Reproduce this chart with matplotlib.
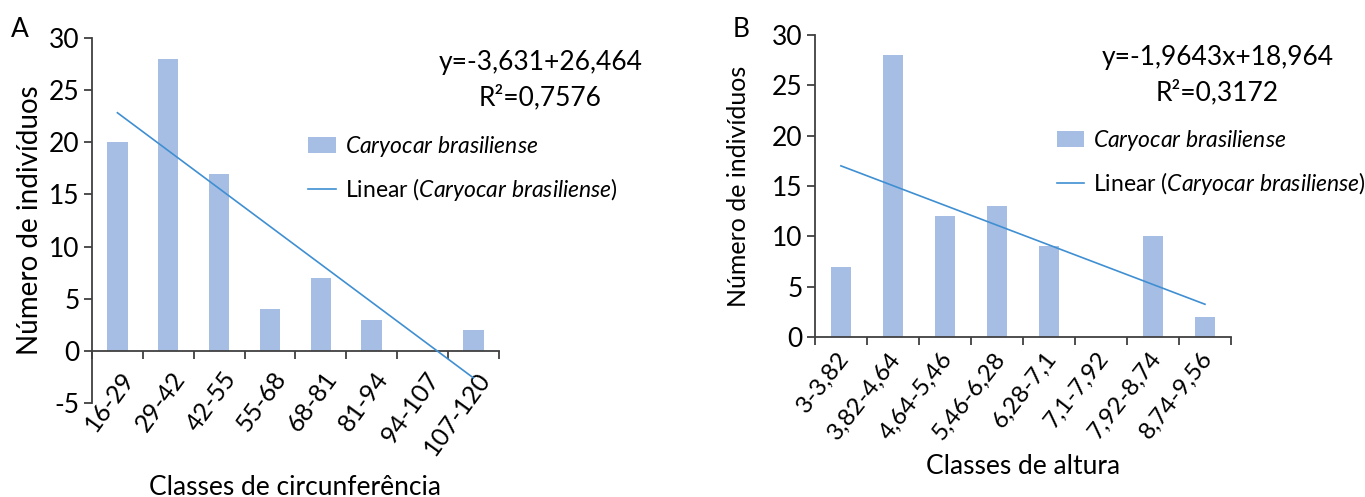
import numpy as np
import matplotlib
matplotlib.use("Agg")
from matplotlib import pyplot as plt
from matplotlib.patches import Patch
from matplotlib.lines import Line2D
from matplotlib.transforms import ScaledTranslation

plt.rcParams['font.family'] = ['Lato', 'DejaVu Sans']
plt.rcParams['mathtext.fontset'] = 'custom'
plt.rcParams['mathtext.rm'] = 'Lato'
plt.rcParams['mathtext.it'] = 'Lato:italic'
plt.rcParams['axes.unicode_minus'] = False

# data
circ_classes = ["16-29", "29-42", "42-55", "55-68", "68-81", "81-94", "94-107", "107-120"]
circ_counts = [20, 28, 17, 4, 7, 3, 0, 2]
alt_classes = ["3-3,82", "3,82-4,64", "4,64-5,46", "5,46-6,28", "6,28-7,1", "7,1-7,92", "7,92-8,74", "8,74-9,56"]
alt_counts = [7, 28, 12, 13, 9, 0, 10, 2]

bar_color = "#A7BEE4"
line_color = "#3F8FD2"
axis_color = "#404040"
fs = 19


def panel(rect, classes, counts, ymin, xlabel, xlabel_y, ylabel_x, ylabel_fs,
          eq, r2, eq_xy, leg_xy, lab_fs, lab_rot, lab_pad, lab_dx):
    ax = fig.add_axes(rect)
    x = np.arange(1, len(counts) + 1)
    ax.bar(x, counts, width=0.4, color=bar_color, zorder=2)
    slope, icpt = np.polyfit(x, counts, 1)
    ax.plot(x, slope * x + icpt, color=line_color, lw=1.2, zorder=3)

    ax.set_xlim(0.5, len(counts) + 0.5)
    ax.set_ylim(ymin, 30)
    ax.set_yticks(np.arange(ymin, 31, 5))
    ax.spines['top'].set_visible(False)
    ax.spines['right'].set_visible(False)
    ax.spines['bottom'].set_position(('data', 0))
    for s in ('left', 'bottom'):
        ax.spines[s].set_color(axis_color)
        ax.spines[s].set_linewidth(1.3)

    ax.set_xticks(x)
    ax.set_xticklabels(classes, rotation=lab_rot, ha='right', va='top')
    ax.set_xticks(np.arange(0.5, len(counts) + 1), minor=True)
    ax.tick_params(axis='x', which='major', length=0, pad=lab_pad, labelsize=lab_fs)
    ax.tick_params(axis='x', which='minor', length=6, width=1.3, color=axis_color, direction='out')
    ax.tick_params(axis='y', length=6, width=1.3, color=axis_color, labelsize=fs, pad=3)
    shift = ScaledTranslation(lab_dx / 100, 0, fig.dpi_scale_trans)
    for lab in ax.get_xticklabels():
        lab.set_transform(lab.get_transform() + shift)

    fig.text(rect[0] + rect[2] / 2, xlabel_y, xlabel, ha='center', va='center', fontsize=fs)
    fig.text(ylabel_x, rect[1] + rect[3] / 2, "Número de indivíduos", rotation=90,
             ha='center', va='center', fontsize=ylabel_fs)
    fig.text(eq_xy[0], eq_xy[1], eq, ha='center', va='center', fontsize=fs)
    fig.text(eq_xy[0], eq_xy[1] - 0.072, r2, ha='center', va='center', fontsize=fs)

    handles = [Patch(facecolor=bar_color),
               Line2D([0], [0], color=line_color, lw=1.2)]
    labels = [r"$\mathit{Caryocar\ brasiliense}$",
              r"Linear ($\mathit{Caryocar\ brasiliense}$)"]
    fig.legend(handles, labels, loc='upper left', bbox_to_anchor=leg_xy, frameon=False,
               fontsize=16.5, handlelength=1.2, handleheight=0.7, handletextpad=0.4,
               labelspacing=0.75, borderpad=0, borderaxespad=0)
    return ax


fig = plt.figure(figsize=(13.65, 4.97), dpi=100)

panel([0.0674, 0.189, 0.298, 0.7345], circ_classes, circ_counts, -5,
      "Classes de circunferência", 0.02, 0.022, 20,
      "y=-3,631+26,464", "R²=0,7576", (0.396, 0.875), (0.226, 0.73),
      18, 54, 12, 21)
panel([0.597, 0.322, 0.3048, 0.6076], alt_classes, alt_counts, 0,
      "Classes de altura", 0.062, 0.541, 18,
      "y=-1,9643x+18,964", "R²=0,3172", (0.892, 0.885), (0.774, 0.742),
      17.5, 52, 8, 12)

fig.text(0.008, 0.94, "A", fontsize=fs, ha='left', va='center')
fig.text(0.537, 0.94, "B", fontsize=fs, ha='left', va='center')

fig.savefig("out.png", dpi=100)
